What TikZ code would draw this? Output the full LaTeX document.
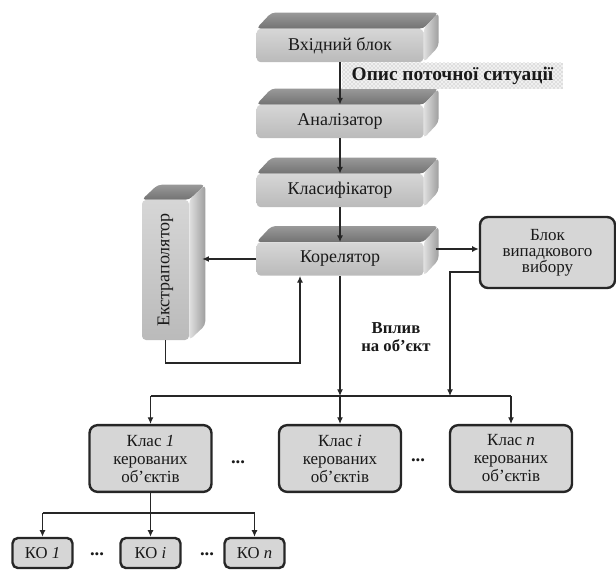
\documentclass[tikz,border=0pt]{standalone}
\usepackage{fontspec}
\setmainfont{Liberation Serif}
\usetikzlibrary{arrows.meta,calc,patterns,backgrounds}
\newcommand\boxdepth[3]{% node, dx, dy(up negative)
  \begin{scope}[on background layer]
    \shade[top color=black!40,bottom color=black!55,rounded corners=3pt]
      (#1.north west) -- ++(#2,#3) -- ($(#1.north east)+(#2,#3)$) -- (#1.north east) -- cycle;
    \shade[left color=black!12,right color=black!38,rounded corners=3pt]
      (#1.north east) -- ++(#2,#3) -- ($(#1.south east)+(#2,#3)$) -- (#1.south east) -- cycle;
  \end{scope}}
\begin{document}
\begin{tikzpicture}[x=0.75pt,y=-0.75pt,
  every node/.style={text=black!90},
  conn/.style={line width=0.9pt,draw=black!85},
  arr/.style={conn,-{Latex[length=5pt,width=4.5pt]}},
  front/.style={rounded corners=3pt,inner sep=0pt,top color=black!16,bottom color=black!27,
    font=\fontsize{13.5}{15}\selectfont},
  mainbox/.style={front,minimum width=125pt,minimum height=25pt},
  roundbox/.style={draw=black!85,line width=1.8pt,rounded corners=6pt,fill=black!16,
    inner sep=0pt,align=center},
  classbox/.style={roundbox,minimum width=91.5pt,minimum height=50pt,
    font=\fontsize{12.75}{13.5}\selectfont},
  kobox/.style={roundbox,rounded corners=4pt,minimum width=45pt,minimum height=22.5pt,
    font=\fontsize{12.5}{14}\selectfont},
  dotsnode/.style={font=\fontsize{14}{15}\selectfont\bfseries},
  boldlabel/.style={font=\fontsize{12.5}{14}\selectfont\bfseries}
]
\useasboundingbox (0,0) rectangle (616,570);

% main 3D boxes
\node[mainbox] (in) at (340,45.5) {Вхідний блок};
\node[mainbox] (an) at (340,121.5) {Аналізатор};
\node[mainbox] (cl) at (340,190.5) {Класифікатор};
\node[mainbox] (kor) at (340,259) {Корелятор};
\boxdepth{in}{15}{-16}
\boxdepth{an}{15}{-16}
\boxdepth{cl}{15}{-16}
\boxdepth{kor}{15}{-16}

\node[front,minimum width=35.25pt,minimum height=105pt] (ext) at (165.5,270)
  {\rotatebox{90}{Екстраполятор}};
\boxdepth{ext}{16}{-15}

% label on stippled background
\node[boldlabel,font=\fontsize{14.5}{16}\selectfont\bfseries,
  minimum width=165.75pt,minimum height=19.5pt,inner sep=0pt,
  fill=black!6,postaction={pattern=crosshatch dots,pattern color=black!35}]
  (opis) at (452.5,76) {Опис поточної ситуації};

\node[roundbox,minimum width=101.25pt,minimum height=53.25pt,
  font=\fontsize{12.75}{12}\selectfont] (blk) at (547.5,252.5)
  {Блок\\випадкового\\вибору};

\node[boldlabel,align=center] (vp) at (396,337) {Вплив\\на об’єкт};

% class boxes
\node[classbox] (c1) at (150.5,458.5) {Клас \textit{1}\\керованих\\об’єктів};
\node[classbox] (ci) at (340,458.5) {Клас \textit{i}\\керованих\\об’єктів};
\node[classbox] (cn) at (511,458.5) {Клас \textit{n}\\керованих\\об’єктів};
\node[dotsnode] (d1) at (238,462) {...};
\node[dotsnode] (d2) at (418,460) {...};

% KO boxes
\node[kobox] (k1) at (42.5,553) {КО \textit{1}};
\node[kobox] (ki) at (150.5,553) {КО \textit{i}};
\node[kobox] (kn) at (254.5,553) {КО \textit{n}};
\node[dotsnode] (d3) at (97,554) {...};
\node[dotsnode] (d4) at (207,554) {...};

% coordinates
\coordinate (extR) at ($(ext.east)+(13,0)$);
\coordinate (fb) at (300,363);
\coordinate (korR) at ($(kor.east)+(12,-10)$);
\coordinate (bo) at ($(blk.west)+(0,19.5)$);
\coordinate (busR) at (450,396);
\coordinate (kbus) at (0,513);

% connectors
\draw[arr] (in.south) -- (an.north);
\draw[arr] (an.south) -- (cl.north);
\draw[arr] (cl.south) -- (kor.north);
\draw[arr] (kor.west) -- (kor.west -| extR);
\draw[arr] (ext.south) |- (fb) -- (fb |- kor.south);
\draw[arr] (korR) -- (korR -| blk.west);
\draw[arr] (bo) -| (busR);
\draw[arr] (kor.south) -- (kor.south |- busR);
\draw[conn] (c1.north |- busR) -- (cn.north |- busR);
\draw[arr] (c1.north |- busR) -- (c1.north);
\draw[arr] (ci.north |- busR) -- (ci.north);
\draw[arr] (cn.north |- busR) -- (cn.north);

\draw[conn] (c1.south) -- (c1.south |- kbus);
\draw[conn] (k1.north |- kbus) -- (kn.north |- kbus);
\draw[arr] (k1.north |- kbus) -- (k1.north);
\draw[arr] (ki.north |- kbus) -- (ki.north);
\draw[arr] (kn.north |- kbus) -- (kn.north);
\end{tikzpicture}
\end{document}
